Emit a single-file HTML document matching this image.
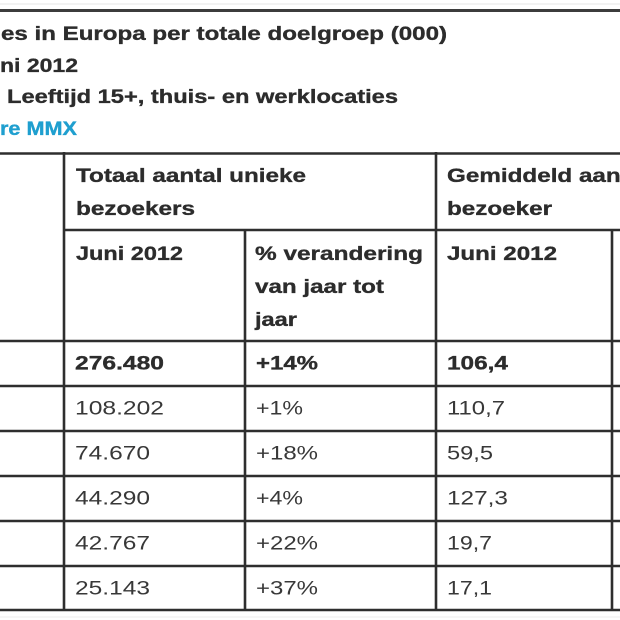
<!DOCTYPE html>
<html>
<head>
<meta charset="utf-8">
<style>
  html,body{margin:0;padding:0;background:#fff;}
  body{width:620px;height:620px;overflow:hidden;}
  svg{display:block;}
  .b{font-family:"Liberation Sans",Arial,sans-serif;font-weight:bold;fill:#2c2c2c;stroke:#2c2c2c;stroke-width:0.35;}
  .r{font-family:"Liberation Sans",Arial,sans-serif;font-weight:normal;fill:#383838;}
</style>
</head>
<body>
<svg width="620" height="620" viewBox="0 0 620 620" xmlns="http://www.w3.org/2000/svg">
  <rect width="620" height="620" fill="#fff"/>
  <!-- top rule -->
  <line x1="0" y1="4" x2="620" y2="4" stroke="#e6e6e6" stroke-width="1"/>
  <line x1="0" y1="10.5" x2="620" y2="10.5" stroke="#3c3c3c" stroke-width="3"/>

  <!-- title -->
  <g font-size="19">
    <text class="b" x="1" y="40" textLength="446" lengthAdjust="spacingAndGlyphs">es in Europa per totale doelgroep (000)</text>
    <text class="b" x="0" y="72" textLength="78" lengthAdjust="spacingAndGlyphs">ni 2012</text>
    <text class="b" x="7" y="103" textLength="391" lengthAdjust="spacingAndGlyphs">Leeftijd 15+, thuis- en werklocaties</text>
    <text class="b" x="0" y="135" textLength="77" lengthAdjust="spacingAndGlyphs" style="fill:#1f9fcf;stroke:#1f9fcf">re MMX</text>
  </g>

  <!-- table lines -->
  <g stroke="#2e2e2e" stroke-width="2.6">
    <line x1="0" y1="153.5" x2="620" y2="153.5"/>
    <line x1="64" y1="230" x2="620" y2="230"/>
    <line x1="0" y1="341" x2="620" y2="341"/>
    <line x1="0" y1="386" x2="620" y2="386"/>
    <line x1="0" y1="431" x2="620" y2="431"/>
    <line x1="0" y1="476" x2="620" y2="476"/>
    <line x1="0" y1="521" x2="620" y2="521"/>
    <line x1="0" y1="566" x2="620" y2="566"/>
    <line x1="0" y1="610" x2="620" y2="610"/>
    <line x1="64" y1="152" x2="64" y2="611"/>
    <line x1="245" y1="229" x2="245" y2="611"/>
    <line x1="436" y1="152" x2="436" y2="611"/>
    <line x1="612" y1="229" x2="612" y2="611"/>
  </g>
  <line x1="0" y1="617" x2="620" y2="617" stroke="#ececec" stroke-width="1"/>

  <!-- header -->
  <g font-size="19.5">
    <text class="b" x="76" y="182" textLength="230" lengthAdjust="spacingAndGlyphs">Totaal aantal unieke</text>
    <text class="b" x="76" y="215" textLength="119" lengthAdjust="spacingAndGlyphs">bezoekers</text>
    <text class="b" x="447" y="182" textLength="202" lengthAdjust="spacingAndGlyphs">Gemiddeld aantal</text>
    <text class="b" x="447" y="215" textLength="105" lengthAdjust="spacingAndGlyphs">bezoeker</text>

    <text class="b" x="76" y="260" textLength="107" lengthAdjust="spacingAndGlyphs">Juni 2012</text>
    <text class="b" x="255" y="260" textLength="168" lengthAdjust="spacingAndGlyphs">% verandering</text>
    <text class="b" x="255" y="293" textLength="129" lengthAdjust="spacingAndGlyphs">van jaar tot</text>
    <text class="b" x="255" y="326" textLength="42" lengthAdjust="spacingAndGlyphs">jaar</text>
    <text class="b" x="447" y="260" textLength="110" lengthAdjust="spacingAndGlyphs">Juni 2012</text>
  </g>

  <!-- data -->
  <g font-size="19.5">
    <text class="b" x="75" y="369.5" textLength="89" lengthAdjust="spacingAndGlyphs">276.480</text>
    <text class="b" x="256" y="369.5" textLength="62" lengthAdjust="spacingAndGlyphs">+14%</text>
    <text class="b" x="447" y="369.5" textLength="61" lengthAdjust="spacingAndGlyphs">106,4</text>

    <text class="r" x="75" y="414.5" textLength="89" lengthAdjust="spacingAndGlyphs">108.202</text>
    <text class="r" x="256" y="414.5" textLength="47" lengthAdjust="spacingAndGlyphs">+1%</text>
    <text class="r" x="447" y="414.5" textLength="58" lengthAdjust="spacingAndGlyphs">110,7</text>

    <text class="r" x="75" y="459.5" textLength="75" lengthAdjust="spacingAndGlyphs">74.670</text>
    <text class="r" x="256" y="459.5" textLength="62" lengthAdjust="spacingAndGlyphs">+18%</text>
    <text class="r" x="447" y="459.5" textLength="46" lengthAdjust="spacingAndGlyphs">59,5</text>

    <text class="r" x="75" y="504.5" textLength="75" lengthAdjust="spacingAndGlyphs">44.290</text>
    <text class="r" x="256" y="504.5" textLength="47" lengthAdjust="spacingAndGlyphs">+4%</text>
    <text class="r" x="447" y="504.5" textLength="61" lengthAdjust="spacingAndGlyphs">127,3</text>

    <text class="r" x="75" y="549.5" textLength="75" lengthAdjust="spacingAndGlyphs">42.767</text>
    <text class="r" x="256" y="549.5" textLength="62" lengthAdjust="spacingAndGlyphs">+22%</text>
    <text class="r" x="447" y="549.5" textLength="45" lengthAdjust="spacingAndGlyphs">19,7</text>

    <text class="r" x="75" y="594.5" textLength="75" lengthAdjust="spacingAndGlyphs">25.143</text>
    <text class="r" x="256" y="594.5" textLength="62" lengthAdjust="spacingAndGlyphs">+37%</text>
    <text class="r" x="447" y="594.5" textLength="45" lengthAdjust="spacingAndGlyphs">17,1</text>
  </g>
</svg>
</body>
</html>
